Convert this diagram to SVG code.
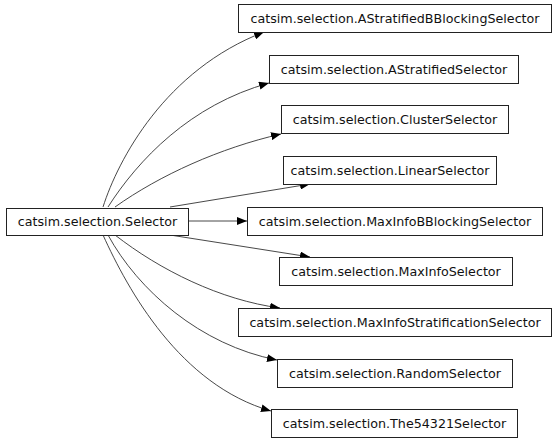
<svg xmlns="http://www.w3.org/2000/svg" width="557" height="443" viewBox="0 0 557 443">
<style>
.n rect{fill:#fff;stroke:#222;stroke-width:1}
.n text{font-family:"DejaVu Sans",sans-serif;font-size:12.7px;text-anchor:middle;fill:#111}
.e path{fill:none;stroke:#333;stroke-width:0.9;marker-end:url(#ah)}
</style>
<defs>
<marker id="ah" markerUnits="userSpaceOnUse" markerWidth="11" markerHeight="8" refX="10" refY="4" orient="auto">
<path d="M0,0 L10,4 L0,8 Z" fill="#000"/>
</marker>
</defs>
<rect width="557" height="443" fill="#fff"/>
<g id="edges" class="e">
<path d="M103,207 C118,160 165,70 264,32"/>
<path d="M108,207 C138,160 190,105 269,83"/>
<path d="M115,207 C160,175 220,148 281,134"/>
<path d="M170,207 L310,184"/>
<path d="M188,221 L247,221"/>
<path d="M170,235 L310,257"/>
<path d="M115,235 C160,270 220,300 280,308"/>
<path d="M108,235 C138,290 200,345 277,360"/>
<path d="M103,235 C128,290 180,385 271,411"/>
</g>
<g id="selector" class="n"><rect x="6.5" y="208.5" width="182" height="27"/><text x="97.5" y="226">catsim.selection.Selector</text></g>
<g id="astratbb" class="n"><rect x="238.5" y="4.5" width="313" height="28"/><text x="395" y="23">catsim.selection.AStratifiedBBlockingSelector</text></g>
<g id="astrat" class="n"><rect x="269.5" y="55.5" width="249" height="28"/><text x="394" y="74">catsim.selection.AStratifiedSelector</text></g>
<g id="cluster" class="n"><rect x="281.5" y="105.5" width="227" height="28"/><text x="395" y="124">catsim.selection.ClusterSelector</text></g>
<g id="linear" class="n"><rect x="283.5" y="156.5" width="213" height="28"/><text x="390" y="175">catsim.selection.LinearSelector</text></g>
<g id="maxinfobb" class="n"><rect x="247.5" y="207.5" width="295" height="28"/><text x="395" y="226">catsim.selection.MaxInfoBBlockingSelector</text></g>
<g id="maxinfo" class="n"><rect x="279.5" y="257.5" width="233" height="28"/><text x="396" y="276">catsim.selection.MaxInfoSelector</text></g>
<g id="maxinfostrat" class="n"><rect x="238.5" y="308.5" width="313" height="28"/><text x="395" y="327">catsim.selection.MaxInfoStratificationSelector</text></g>
<g id="random" class="n"><rect x="277.5" y="359.5" width="235" height="28"/><text x="395" y="378">catsim.selection.RandomSelector</text></g>
<g id="the54321" class="n"><rect x="271.5" y="409.5" width="246" height="28"/><text x="394.5" y="428">catsim.selection.The54321Selector</text></g>
</svg>
